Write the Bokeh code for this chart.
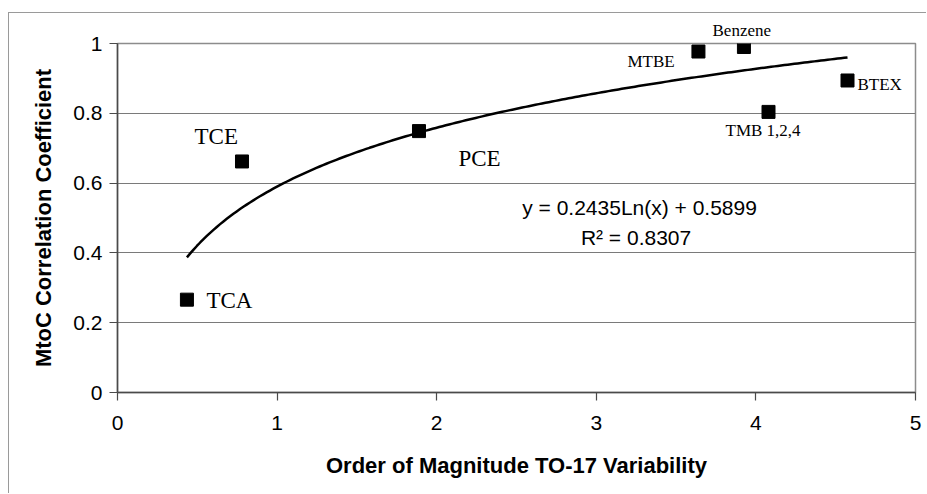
import numpy as np
from bokeh.plotting import figure
from bokeh.models import Range1d, FixedTicker, NumeralTickFormatter, Label
from bokeh.embed import file_html
from bokeh.resources import INLINE

# ---- data ----
compounds = ["TCA", "TCE", "PCE", "MTBE", "Benzene", "TMB 1,2,4", "BTEX"]
variability = [0.435, 0.78, 1.889, 3.64, 3.925, 4.079, 4.574]
correlation = [0.266, 0.662, 0.749, 0.977, 0.99, 0.804, 0.894]
x_ticks = [0, 1, 2, 3, 4, 5]
y_ticks = [0, 0.2, 0.4, 0.6, 0.8, 1]
trend_slope = 0.2435
trend_intercept = 0.5899
r_squared = 0.8307

# label styling: (dx px right, dy px down, font size)
LIFT = 6.5
label_style = {
    "TCA": (19.5, 7 - LIFT, "23px"),
    "TCE": (-47.5, -18 - LIFT, "23px"),
    "PCE": (39.5, 33.5 - LIFT, "23px"),
    "MTBE": (-71, 16 - LIFT, "17px"),
    "TMB 1,2,4": (-43, 25 - LIFT, "17px"),
    "BTEX": (10, 11 - LIFT, "17px"),
}
# the label above the plot area (outside the frame) is drawn as the title
top_label = "Benzene"

p = figure(width=918, height=481, x_range=Range1d(0, 5), y_range=Range1d(0, 1),
           output_backend="svg", toolbar_location=None,
           min_border_left=108, min_border_right=12, min_border_top=30, min_border_bottom=102,
           margin=(12, 0, 0, 8))
p.styles = {"border-left": "1px solid #9a9a9a", "border-top": "1px solid #9a9a9a"}

p.title.text = top_label
p.title.text_font = "Liberation Serif"
p.title.text_font_size = "17px"
p.title.text_font_style = "normal"
p.title.text_color = "black"
p.title.align = "left"
p.title.offset = 713 - 118
p.title.standoff = 7

p.background_fill_color = "white"
p.border_fill_color = "white"
p.outline_line_color = "#8c8c8c"
p.outline_line_width = 1.5

p.xgrid.visible = False
p.ygrid.ticker = FixedTicker(ticks=y_ticks)
p.ygrid.grid_line_color = "#7a7a7a"
p.ygrid.grid_line_width = 1

for ax in (p.xaxis[0], p.yaxis[0]):
    ax.axis_line_color = "#4a4a4a"
    ax.axis_line_width = 1.5
    ax.major_tick_line_color = "#4a4a4a"
    ax.major_tick_line_width = 1.2
    ax.major_tick_in = 0
    ax.major_tick_out = 8
    ax.minor_tick_line_color = None
    ax.major_label_text_font = "Liberation Sans"
    ax.major_label_text_font_size = "21px"
    ax.major_label_text_color = "black"
    ax.axis_label_text_font = "Liberation Sans"
    ax.axis_label_text_font_size = "22px"
    ax.axis_label_text_font_style = "bold"
    ax.axis_label_text_color = "black"

p.xaxis.ticker = FixedTicker(ticks=x_ticks)
p.yaxis.ticker = FixedTicker(ticks=y_ticks)
p.yaxis.formatter = NumeralTickFormatter(format="0.[0]")
p.xaxis.formatter = NumeralTickFormatter(format="0")
p.xaxis.axis_label = "Order of Magnitude TO-17 Variability"
p.yaxis.axis_label = "MtoC Correlation Coefficient"
p.xaxis.major_label_standoff = 15
p.xaxis.axis_label_standoff = 20
p.yaxis.major_label_standoff = 7
p.yaxis.axis_label_standoff = 14

# logarithmic trendline from the chart's fitted equation
tx = np.linspace(min(variability), max(variability), 200)
ty = trend_slope * np.log(tx) + trend_intercept
p.line(tx, ty, line_color="black", line_width=2.5)

p.scatter(variability, correlation, marker="square", size=13, fill_color="black", line_color="black")

for name, xv, yv in zip(compounds, variability, correlation):
    if name not in label_style:
        continue
    dx, dy, fs = label_style[name]
    p.add_layout(Label(x=xv, y=yv, x_offset=dx, y_offset=-dy, text=name,
                       text_font="Liberation Serif", text_font_size=fs,
                       text_align="left", text_baseline="alphabetic", text_color="black"))

p.add_layout(Label(x=3.271, y=0.529, text=f"y = {trend_slope}Ln(x) + {trend_intercept}",
                   text_font="Liberation Sans", text_font_size="21px",
                   text_align="center", text_baseline="alphabetic", text_color="black"))
p.add_layout(Label(x=3.249, y=0.443, text=f"R\u00b2 = {r_squared}",
                   text_font="Liberation Sans", text_font_size="21px",
                   text_align="center", text_baseline="alphabetic", text_color="black"))

open("out.html", "w").write(file_html(p, INLINE))
